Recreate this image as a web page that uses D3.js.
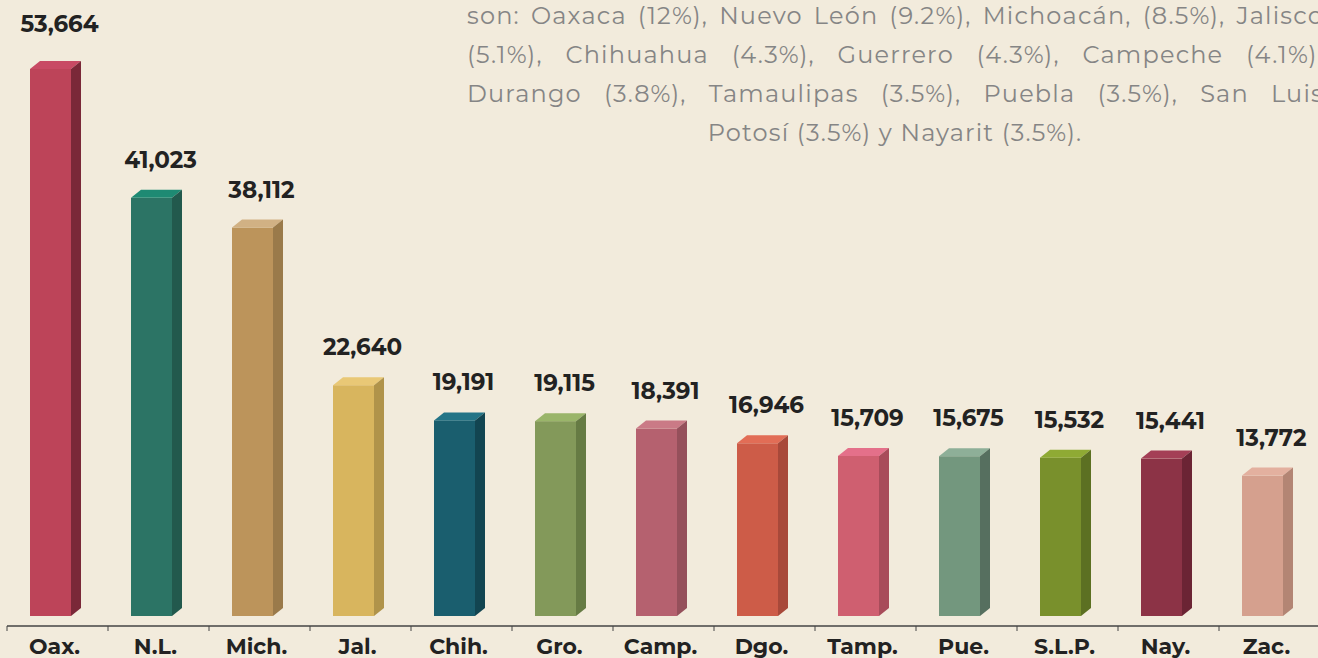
<html>
<head>
<style>
  body { margin: 0; background: #f2ebdc; }
  svg { display: block; }
  .val { font-family: "Montserrat", "Open Sans", sans-serif; font-weight: 700; font-size: 23px; fill: #222; }
  .cat { font-family: "Montserrat", "Open Sans", sans-serif; font-weight: 700; font-size: 22px; fill: #222; }
  .note { font-family: "Montserrat", "Open Sans", sans-serif; font-size: 24px; letter-spacing: 1.2px; fill: #858585; }
</style>
</head>
<body>
<svg id="chart" width="1318" height="658"></svg>
<script src="https://cdn.jsdelivr.net/npm/d3@7"></script>
<script>
const categories = ["Oax.", "N.L.", "Mich.", "Jal.", "Chih.", "Gro.", "Camp.", "Dgo.", "Tamp.", "Pue.", "S.L.P.", "Nay.", "Zac."]
const values = [53664, 41023, 38112, 22640, 19191, 19115, 18391, 16946, 15709, 15675, 15532, 15441, 13772]
const frontColors = ["#bd4459", "#2c7465", "#bc945b", "#d8b55e", "#1a5e6e", "#83995a", "#b5616f", "#cd5c48", "#cf5f70", "#73977e", "#79902c", "#8c3346", "#d5a08e"]
const sideColors = ["#7a2838", "#22594d", "#9a7a4a", "#b0934a", "#124551", "#667b44", "#95505b", "#a8493a", "#a84c5a", "#566f5f", "#5c7022", "#6b2434", "#b38574"]
const topColors = ["#c84a64", "#1e8a73", "#d1b184", "#e9c876", "#237487", "#9ab56a", "#ca7a86", "#e26d56", "#e4708a", "#8eaf98", "#8faa34", "#a43f56", "#e3b09f"]
const noteLines = [
  "son: Oaxaca (12%), Nuevo León (9.2%), Michoacán, (8.5%), Jalisco",
  "(5.1%), Chihuahua (4.3%), Guerrero (4.3%), Campeche (4.1%),",
  "Durango (3.8%), Tamaulipas (3.5%),  Puebla (3.5%), San Luis",
  "Potosí (3.5%) y Nayarit (3.5%)."
]

let svg = d3.select("#chart")
let base = 616, axisY = 626
let depth = 10, rise = 8, barW = 41

let x = d3.scaleBand().domain(categories).range([7, 7 + 101 * categories.length]).padding(0)
let y = d3.scaleLinear().domain([0, values[0]]).range([base, 69])

let data = categories.map((c, i) => ({ c: c, v: values[i], i: i }))

let bars = svg.append("g").selectAll("g").data(data).enter().append("g")

bars.append("rect")
  .attr("x", d => x(d.c) + 23)
  .attr("y", d => y(d.v))
  .attr("width", barW)
  .attr("height", d => base - y(d.v))
  .attr("fill", d => frontColors[d.i])

bars.append("polygon")
  .attr("points", d => {
    let x0 = x(d.c) + 23, t = y(d.v)
    return [[x0, t], [x0 + depth, t - rise], [x0 + barW + depth, t - rise], [x0 + barW, t]].join(" ")
  })
  .attr("fill", d => topColors[d.i])

bars.append("polygon")
  .attr("points", d => {
    let x1 = x(d.c) + 23 + barW, t = y(d.v)
    return [[x1, t], [x1 + depth, t - rise], [x1 + depth, base - rise], [x1, base]].join(" ")
  })
  .attr("fill", d => sideColors[d.i])

// the tallest label sits closer to the top edge
bars.append("text")
  .attr("class", "val")
  .attr("x", d => x(d.c) + x.bandwidth() / 2 + 2)
  .attr("y", d => Math.max(31, y(d.v) - 30) - (d.i == 0 ? 7 : 0))
  .attr("text-anchor", "middle")
  .text(d => d3.format(",")(d.v))

// axis
let axis = svg.append("g")
axis.append("line")
  .attr("x1", 7).attr("x2", 1318)
  .attr("y1", axisY).attr("y2", axisY)
  .attr("stroke", "#444").attr("stroke-width", 1.5)
axis.selectAll(".tick").data(categories).enter().append("line")
  .attr("x1", d => x(d)).attr("x2", d => x(d))
  .attr("y1", axisY).attr("y2", axisY + 5)
  .attr("stroke", "#444").attr("stroke-width", 1)
axis.selectAll(".cat").data(categories).enter().append("text")
  .attr("class", "cat")
  .attr("x", d => x(d) + x.bandwidth() / 2 - 3)
  .attr("y", 654)
  .attr("text-anchor", "middle")
  .text(d => d)

// justified note text
let noteLeft = 467, noteRight = 1324, lineH = 39
let note = svg.append("g")
noteLines.forEach((line, li) => {
  let yy = 24 + li * lineH
  if (li == noteLines.length - 1) {
    note.append("text").attr("class", "note")
      .attr("x", 895).attr("y", yy).attr("text-anchor", "middle").text(line)
    return
  }
  let words = line.split(/\s+/)
  let nodes = words.map(w => note.append("text").attr("class", "note").attr("y", yy).text(w))
  let widths = nodes.map(n => n.node().getComputedTextLength())
  let gap = (noteRight - noteLeft - d3.sum(widths)) / (words.length - 1)
  let cx = noteLeft
  nodes.forEach((n, k) => {
    n.attr("x", cx)
    cx += widths[k] + gap
  })
})
</script>
</body>
</html>
